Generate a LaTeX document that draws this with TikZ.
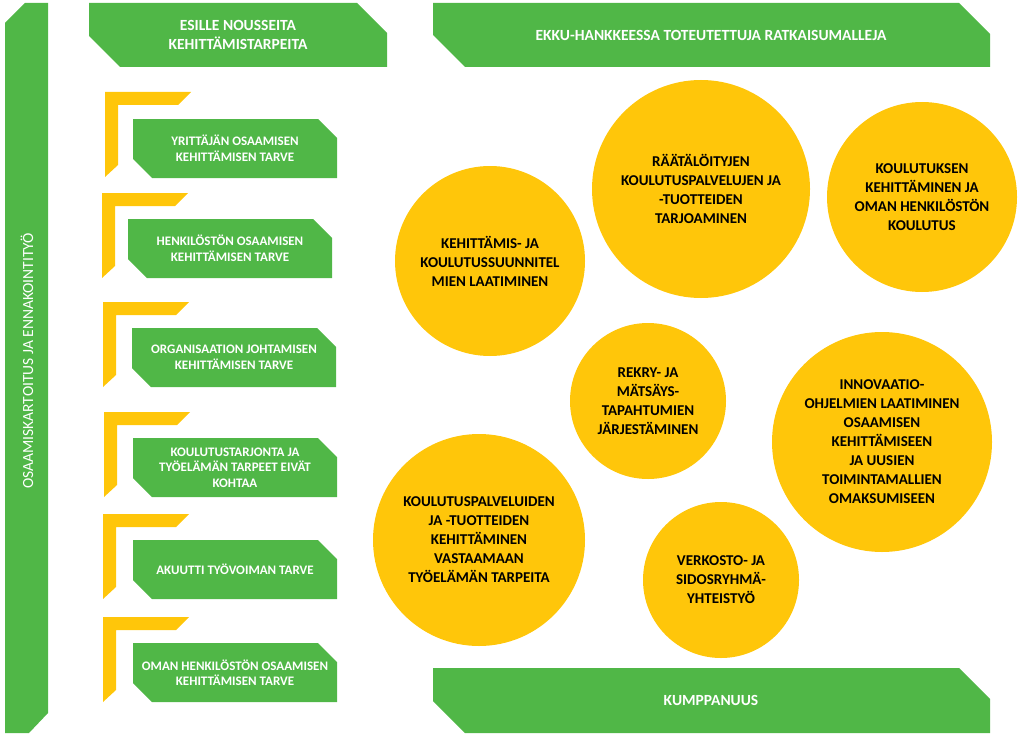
\documentclass[tikz,border=0pt]{standalone}
\usepackage{fontspec}
\setmainfont{Carlito}
\usepackage{tikz}
\usetikzlibrary{positioning}
\definecolor{EkkuGreen}{HTML}{50B747}
\definecolor{EkkuYellow}{HTML}{FFC60A}

\begin{document}
\begin{tikzpicture}[x=1pt, y=-1pt, every node/.style={align=center, inner sep=0pt},
  boxtxt/.style={text=white, font=\fontsize{13}{15.5}\selectfont\bfseries},
  bantxt/.style={text=white, font=\fontsize{15.5}{18.5}\selectfont\bfseries},
  bubble/.style={circle, fill=EkkuYellow, text=black, font=\fontsize{15}{19}\selectfont\bfseries}]
  \useasboundingbox (0,0) rectangle (1024,741);
  % left bar
  \fill[EkkuGreen] (5,23) -- (25,3) -- (48,3) -- (48,713) -- (29,733) -- (5,733) -- cycle;
  \node[text=white, font=\fontsize{15.5}{18}\selectfont, rotate=90] (ennakointi) at (27,361) {OSAAMISKARTOITUS JA ENNAKOINTITYÖ};
  % banners
  \fill[EkkuGreen] (89,3) -- (357,3) -- (387,33) -- (387,67) -- (120,67) -- (89,36) -- cycle;
  \node[bantxt] (tarpeita) at (238,35) {ESILLE NOUSSEITA\\KEHITTÄMISTARPEITA};
  \fill[EkkuGreen] (433,3) -- (959,3) -- (990,34) -- (990,67) -- (465,67) -- (433,35) -- cycle;
  \node[bantxt] (malleja) at (711,35) {EKKU-HANKKEESSA TOTEUTETTUJA RATKAISUMALLEJA};
  \fill[EkkuGreen] (433,668) -- (959,668) -- (990,699) -- (990,733) -- (465,733) -- (433,701) -- cycle;
  \node[bantxt] (kumppanuus) at (711,700) {KUMPPANUUS};
  % needs: yellow corners and green boxes
  \fill[EkkuYellow] (105,92) -- ++(86,0) -- ++(-13,13) -- ++(-60,0) -- ++(0,60) -- ++(-13,12) -- cycle;
  \fill[EkkuGreen] (133,119) -- ++(185,0) -- ++(19,19) -- ++(0,40) -- ++(-185,0) -- ++(-19,-19) -- cycle;
  \node[boxtxt] (yrittaja) at (235,148.5) {YRITTÄJÄN OSAAMISEN\\KEHITTÄMISEN TARVE};
  \fill[EkkuYellow] (102,193) -- ++(86,0) -- ++(-13,13) -- ++(-60,0) -- ++(0,60) -- ++(-13,12) -- cycle;
  \fill[EkkuGreen] (128,219) -- ++(185,0) -- ++(19,19) -- ++(0,40) -- ++(-185,0) -- ++(-19,-19) -- cycle;
  \node[boxtxt] (henkilosto) at (230,248.5) {HENKILÖSTÖN OSAAMISEN\\KEHITTÄMISEN TARVE};
  \fill[EkkuYellow] (103,302) -- ++(86,0) -- ++(-13,13) -- ++(-60,0) -- ++(0,60) -- ++(-13,12) -- cycle;
  \fill[EkkuGreen] (132,328) -- ++(185,0) -- ++(19,19) -- ++(0,40) -- ++(-185,0) -- ++(-19,-19) -- cycle;
  \node[boxtxt] (johtaminen) at (234,357.5) {ORGANISAATION JOHTAMISEN\\KEHITTÄMISEN TARVE};
  \fill[EkkuYellow] (104,412) -- ++(86,0) -- ++(-13,13) -- ++(-60,0) -- ++(0,60) -- ++(-13,12) -- cycle;
  \fill[EkkuGreen] (133,438) -- ++(185,0) -- ++(19,19) -- ++(0,40) -- ++(-185,0) -- ++(-19,-19) -- cycle;
  \node[boxtxt] (tarjonta) at (235,467.5) {KOULUTUSTARJONTA JA\\TYÖELÄMÄN TARPEET EIVÄT\\KOHTAA};
  \fill[EkkuYellow] (103,514) -- ++(86,0) -- ++(-13,13) -- ++(-60,0) -- ++(0,60) -- ++(-13,12) -- cycle;
  \fill[EkkuGreen] (133,540) -- ++(185,0) -- ++(19,19) -- ++(0,40) -- ++(-185,0) -- ++(-19,-19) -- cycle;
  \node[boxtxt] (tyovoima) at (235,569.5) {AKUUTTI TYÖVOIMAN TARVE};
  \fill[EkkuYellow] (103,617) -- ++(86,0) -- ++(-13,13) -- ++(-60,0) -- ++(0,60) -- ++(-13,12) -- cycle;
  \fill[EkkuGreen] (133,643) -- ++(185,0) -- ++(19,19) -- ++(0,40) -- ++(-185,0) -- ++(-19,-19) -- cycle;
  \node[boxtxt] (omahenk) at (235,672.5) {OMAN HENKILÖSTÖN OSAAMISEN\\KEHITTÄMISEN TARVE};
  % solutions
  \node[bubble, minimum size=190pt] (suunnitelmat) at (490,261) {KEHITTÄMIS- JA\\KOULUTUSSUUNNITEL\\MIEN LAATIMINEN};
  \node[bubble, minimum size=218pt] (raataloidyt) at (701,189) {RÄÄTÄLÖITYJEN\\KOULUTUSPALVELUJEN JA\\-TUOTTEIDEN\\TARJOAMINEN};
  \node[bubble, minimum size=190pt] (koulutus) at (922,197) {KOULUTUKSEN\\KEHITTÄMINEN JA\\OMAN HENKILÖSTÖN\\KOULUTUS};
  \node[bubble, minimum size=156pt] (rekry) at (648,401) {REKRY- JA\\MÄTSÄYS-\\TAPAHTUMIEN\\JÄRJESTÄMINEN};
  \node[bubble, minimum size=220pt] (innovaatio) at (882,442) {INNOVAATIO-\\OHJELMIEN LAATIMINEN\\OSAAMISEN\\KEHITTÄMISEEN\\JA UUSIEN\\TOIMINTAMALLIEN\\OMAKSUMISEEN};
  \node[bubble, minimum size=212pt] (palvelut) at (479,540) {KOULUTUSPALVELUIDEN\\JA -TUOTTEIDEN\\KEHITTÄMINEN\\VASTAAMAAN\\TYÖELÄMÄN TARPEITA};
  \node[bubble, minimum size=156pt] (verkosto) at (721,580) {VERKOSTO- JA\\SIDOSRYHMÄ-\\YHTEISTYÖ};
\end{tikzpicture}
\end{document}
